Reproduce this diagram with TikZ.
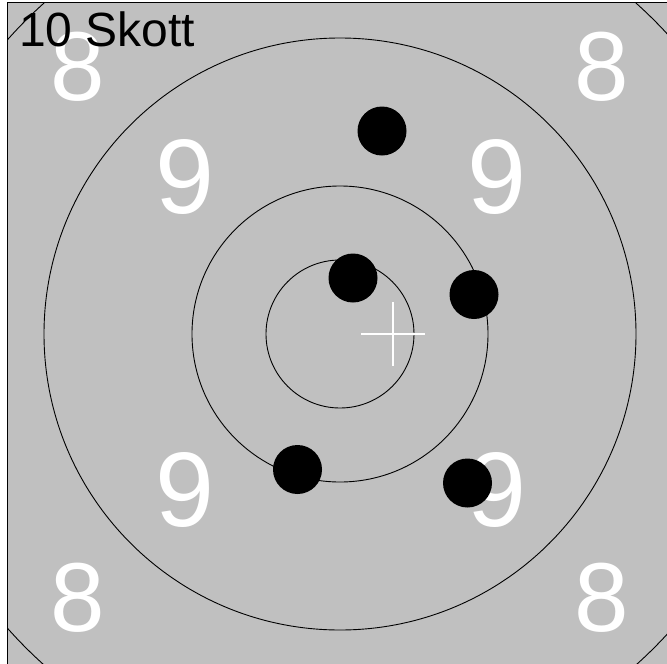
\documentclass[tikz,border=0pt]{standalone}
\usepackage{fontspec}
\setmainfont{Liberation Sans}
\definecolor{target}{RGB}{192,192,192}
\begin{document}
\begin{tikzpicture}[x=1pt,y=-1pt,
  ring/.style={draw=black,line width=0.9pt},
  shot/.style={circle,fill=black,inner sep=0pt,minimum size=49pt},
  eight/.style={text=white,font=\fontsize{98}{98}\selectfont,inner sep=0pt},
  nine/.style={text=white,font=\fontsize{106}{106}\selectfont,inner sep=0pt},
  frameline/.style={draw=black,line width=1.2pt}]
\useasboundingbox (0,0) rectangle (667,664);
\fill[white] (0,0) rectangle (667,664);
\fill[target] (8,2.5) rectangle (667,664);
\begin{scope}
\clip (8,2.5) rectangle (667,664);
\coordinate (c) at (340,334);
\draw[ring] (c) circle[radius=74];
\draw[ring] (c) circle[radius=148];
\draw[ring] (c) circle[radius=296];
\draw[ring] (c) circle[radius=444];
\end{scope}
\draw[frameline] (7.5,664) -- (7.5,2.5) -- (667,2.5);
% numbers
\node[eight] (e1) at (78,67) {8};
\node[eight] (e2) at (602,67) {8};
\node[eight] (e3) at (78,598) {8};
\node[eight] (e4) at (602,598) {8};
\node[nine] (n1) at (185,177) {9};
\node[nine] (n2) at (497,177) {9};
\node[nine] (n3) at (185,490) {9};
\node[nine] (n4) at (497,490) {9};
% cross
\coordinate (cx) at (393,334);
\draw[white,line width=2pt] ([xshift=-32pt]cx) -- ([xshift=32pt]cx);
\draw[white,line width=2pt] ([yshift=-32pt]cx) -- ([yshift=32pt]cx);
% shots
\node[shot] (s1) at (382,131) {};
\node[shot] (s2) at (474,294.5) {};
\node[shot] (s3) at (353,278) {};
\node[shot] (s4) at (297.5,469.5) {};
\node[shot] (s5) at (467.5,483) {};
% title
\node[anchor=base west,inner sep=0pt,font=\fontsize{48}{48}\selectfont] (title) at (19,46) {10 Skott};
\end{tikzpicture}
\end{document}
